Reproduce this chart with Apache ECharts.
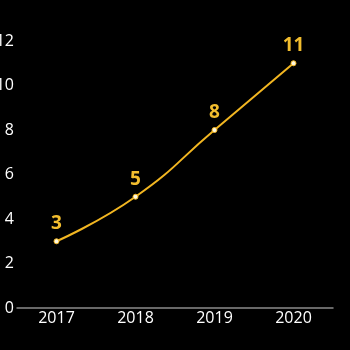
<!DOCTYPE html>
<html><head><meta charset="utf-8">
<script src="https://cdn.jsdelivr.net/npm/echarts@6/dist/echarts.min.js"></script>
<style>html,body{margin:0;padding:0;background:#000;}#c{width:350px;height:350px;}</style>
</head><body><div id="c"></div>
<script>
const categories = ['2017', '2018', '2019', '2020'];
const values = [3, 5, 8, 11];
const yTicks = [0, 2, 4, 6, 8, 10, 12];

const chart = echarts.init(document.getElementById('c'));
chart.setOption({
  backgroundColor: '#000',
  animation: false,
  grid: { left: 17, right: 17, top: 41, bottom: 42, containLabel: false, outerBoundsMode: 'none' },
  xAxis: {
    type: 'category', data: categories, boundaryGap: true,
    axisLine: { show: true, lineStyle: { color: '#8a8a8a', width: 1.5 } },
    axisTick: { show: false },
    axisLabel: { color: '#fff', fontSize: 16, fontFamily: 'Open Sans', margin: 2 }
  },
  yAxis: {
    type: 'value', min: yTicks[0], max: yTicks[yTicks.length - 1], interval: 2,
    axisLine: { show: false }, axisTick: { show: false }, splitLine: { show: false },
    axisLabel: { color: '#fff', fontSize: 16, fontFamily: 'Open Sans', margin: 3 }
  },
  series: [{
    type: 'line', data: values, smooth: true,
    lineStyle: { color: '#f2b621', width: 2 },
    symbol: 'circle', symbolSize: 5,
    itemStyle: { color: '#fff8e0', borderColor: '#f2b621', borderWidth: 1 },
    label: { show: true, position: 'top', distance: 5, color: '#f2bd2e', fontSize: 19, fontWeight: 'bold', fontFamily: 'Open Sans' }
  }]
});
</script></body></html>
